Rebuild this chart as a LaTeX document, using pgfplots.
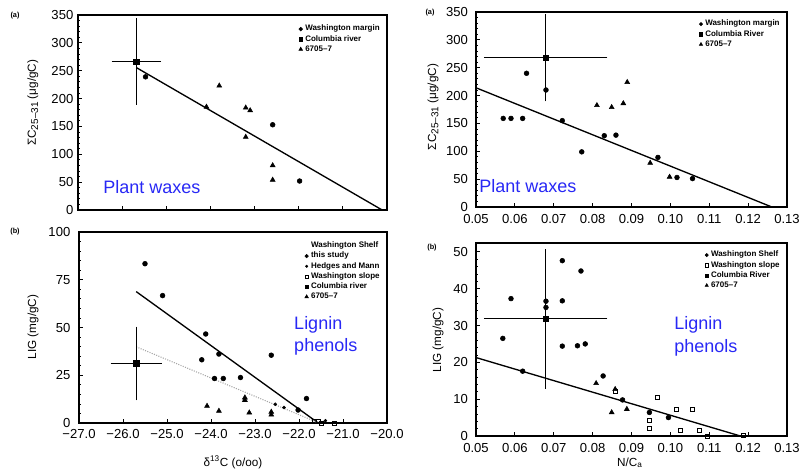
\documentclass[border=0pt]{standalone}
\usepackage{fontspec}
\setmainfont{Liberation Sans}
\usepackage{pgfplots}
\pgfplotsset{compat=1.18}
\definecolor{labelblue}{RGB}{40,40,245}

\tikzset{
  blue text/.style={anchor=base west, inner sep=0pt, text=labelblue, font=\fontsize{13.5}{15}\selectfont},
  panel letter/.style={font=\fontsize{5.5}{6.5}\selectfont\bfseries},
}
\newcommand{\wax}{ΣC\raisebox{-0.35ex}{\fontsize{7.5}{8}\selectfont 25–31} (μg/gC)}
\pgfplotsset{
  panel/.style={
    scale only axis, clip=false,
    axis line style={line width=1pt},
    tick style={line width=0.6pt, black},
    major tick length=3pt, minor tick length=1.5pt,
    xtick pos=bottom, ytick pos=left, tick align=inside,
    ticklabel style={font=\fontsize{9.8}{11}\selectfont},
    /pgf/number format/assume math mode=true,
    label style={font=\fontsize{8.8}{10}\selectfont},
    legend style={draw=none, fill=none, font=\fontsize{6}{7}\selectfont\bfseries,
      row sep=-2.2pt, inner sep=1pt, cells={anchor=west}},
    legend cell align=left,
  },
  wm/.style={only marks, mark=*, mark size=1.8pt, black},
  tri/.style={only marks, mark=triangle*, mark size=2.1pt, black},
  cr/.style={only marks, mark=square*, mark size=2pt, black,
    error bars/x dir=both, error bars/x explicit,
    error bars/y dir=both, error bars/y explicit,
    error bars/error bar style={line width=0.7pt, black},
    error bars/error mark options={black, mark size=2pt, line width=0.7pt}},
  slope/.style={only marks, mark=square, mark size=1.5pt, black, mark options={line width=0.6pt}},
  hm/.style={only marks, mark=*, mark size=1.1pt, black},
  fit/.style={black, line width=1pt, no marks},
}

\begin{document}
\begin{tikzpicture}
\path[use as bounding box] (0,0) rectangle (599.25pt,354pt);

% ---------------- (a) plant waxes vs delta 13C ----------------
\begin{axis}[panel, at={(58.5pt,196.5pt)}, anchor=south west,
  width=231.75pt, height=146.25pt,
  xmin=-27, xmax=-20, ymin=0, ymax=350,
  xtick={-26,-25,-24,-23,-22,-21}, xticklabels={},
  ytick={0,50,...,350}, minor y tick num=4,
  ylabel={\wax},
  ylabel style={at={(axis description cs:-0.146,0.55)}, anchor=center},
  legend style={at={(0.99,0.97)}, anchor=north east}]
\addlegendimage{only marks, mark=*, mark size=1.4pt}
\addlegendentry{Washington margin}
\addlegendimage{only marks, mark=square*, mark size=1.4pt}
\addlegendentry{Columbia river}
\addlegendimage{only marks, mark=triangle*, mark size=1.6pt}
\addlegendentry{6705–7}
\addplot[fit, forget plot] coordinates {(-25.68,255.7) (-20.11,0)};
\addplot[wm, forget plot] coordinates {(-25.47,239) (-22.59,153) (-21.98,52)};
\addplot[tri, forget plot] coordinates {(-24.09,185) (-23.80,223) (-23.20,183.5)
  (-23.10,178.7) (-23.20,131) (-22.59,80) (-22.59,54)};
\addplot[cr, forget plot] coordinates {(-25.68,266.5) +- (0.5,73)};
\node[blue text] at (rel axis cs:0.081,0.087) {Plant waxes};
\end{axis}

% ---------------- (a) plant waxes vs N/C ----------------
\begin{axis}[panel, at={(357pt,198.75pt)}, anchor=south west,
  width=233.25pt, height=146.25pt,
  xmin=0.05, xmax=0.13, ymin=0, ymax=350,
  xtick={0.05,0.06,...,0.13},
  xticklabels={0.05,0.06,0.07,0.08,0.09,0.10,0.11,0.12,0.13},
  xticklabel style={yshift=-2pt},
  yticklabel style={xshift=-2.5pt},
  ytick={0,50,...,350}, minor y tick num=4,
  ylabel={\wax},
  ylabel style={at={(axis description cs:-0.138,0.513)}, anchor=center},
  legend style={at={(0.99,0.98)}, anchor=north east}]
\addlegendimage{only marks, mark=*, mark size=1.2pt}
\addlegendentry{Washington margin}
\addlegendimage{only marks, mark=square*, mark size=1.2pt}
\addlegendentry{Columbia River}
\addlegendimage{only marks, mark=triangle*, mark size=1.4pt}
\addlegendentry{6705–7}
\addplot[fit, forget plot] coordinates {(0.05,214) (0.1261,0)};
\addplot[wm, forget plot] coordinates {(0.057,159) (0.059,159) (0.062,159) (0.063,240)
  (0.068,210) (0.0722,155) (0.0772,99) (0.083,128) (0.086,129) (0.0968,89)
  (0.1017,53) (0.1057,51)};
\addplot[tri, forget plot] coordinates {(0.0811,182.5) (0.0849,179) (0.0879,186)
  (0.0889,224) (0.0948,79) (0.0998,54)};
\addplot[cr, forget plot] coordinates {(0.0679,268) +- (0.0152,73.5)};
\node[blue text] at (rel axis cs:0.01,0.072) {Plant waxes};
\end{axis}

% ---------------- (b) lignin vs delta 13C ----------------
\begin{axis}[panel, at={(59.25pt,36.75pt)}, anchor=south west,
  width=231pt, height=143.25pt,
  xmin=-27, xmax=-20, ymin=0, ymax=100,
  xtick={-27,-26,...,-20},
  xticklabels={−27.0,−26.0,−25.0,−24.0,−23.0,−22.0,−21.0,−20.0},
  xticklabel style={yshift=-1.5pt},
  yticklabel style={xshift=-3pt},
  ytick={0,25,50,75,100}, minor y tick num=4,
  ylabel={LIG (mg/gC)},
  ylabel style={at={(axis description cs:-0.149,0.503)}, anchor=center},
  xlabel={δ\textsuperscript{13}C (o/oo)},
  xlabel style={at={(axis description cs:0.5,-0.204)}, anchor=center},
  legend style={at={(0.99,0.97)}, anchor=north east}]
\addlegendimage{empty legend}
\addlegendentry{Washington Shelf}
\addlegendimage{only marks, mark=*, mark size=1.3pt}
\addlegendentry{this study}
\addlegendimage{only marks, mark=*, mark size=0.9pt}
\addlegendentry{Hedges and Mann}
\addlegendimage{only marks, mark=square, mark size=1.2pt}
\addlegendentry{Washington slope}
\addlegendimage{only marks, mark=square*, mark size=1.3pt}
\addlegendentry{Columbia river}
\addlegendimage{only marks, mark=triangle*, mark size=1.5pt}
\addlegendentry{6705–7}
\addplot[fit, forget plot] coordinates {(-25.70,68.8) (-21.58,0.3)};
\addplot[gray!70, line width=0.8pt, densely dotted, no marks, forget plot]
  coordinates {(-25.70,39.9) (-21.60,0.5)};
\addplot[wm, forget plot] coordinates {(-25.50,83.4) (-25.10,66.7) (-24.12,46.6)
  (-24.21,33.1) (-23.82,36.1) (-23.92,23.3) (-23.72,23.3) (-23.33,23.8)
  (-22.63,35.5) (-21.83,12.8) (-22.02,6.8)};
\addplot[hm, forget plot] coordinates {(-22.54,9.8) (-22.34,8.1) (-21.40,1.2) (-21.52,0.3)};
\addplot[slope, forget plot] coordinates {(-21.64,1.0) (-21.55,1.0) (-21.48,0) (-21.20,0)};
\addplot[tri, forget plot] coordinates {(-24.09,8.9) (-23.82,6.3) (-23.23,13.3)
  (-23.23,12.0) (-23.13,5.4) (-22.63,5.8) (-22.63,4.3)};
\addplot[cr, forget plot] coordinates {(-25.70,31.2) +- (0.52,17.9)};
\node[blue text] at (rel axis cs:0.698,0.492) {Lignin};
\node[blue text] at (rel axis cs:0.698,0.372) {phenols};
\end{axis}

% ---------------- (b) lignin vs N/C ----------------
\begin{axis}[panel, at={(357pt,27pt)}, anchor=south west,
  width=233.25pt, height=144.75pt,
  xmin=0.05, xmax=0.13, ymin=0, ymax=52.4,
  xtick={0.05,0.06,...,0.13},
  xticklabels={0.05,0.06,0.07,0.08,0.09,0.10,0.11,0.12,0.13},
  xticklabel style={yshift=-2pt},
  yticklabel style={xshift=-2.5pt},
  ytick={0,10,...,50}, minor y tick num=4,
  ylabel={LIG (mg/gC)},
  ylabel style={at={(axis description cs:-0.122,0.497)}, anchor=center},
  xlabel={N/C\textsubscript{a}},
  xlabel style={at={(axis description cs:0.495,-0.14)}, anchor=center},
  legend style={at={(0.99,0.98)}, anchor=north east}]
\addlegendimage{only marks, mark=*, mark size=1.2pt}
\addlegendentry{Washington Shelf}
\addlegendimage{only marks, mark=square, mark size=1.2pt}
\addlegendentry{Washington slope}
\addlegendimage{only marks, mark=square*, mark size=1.2pt}
\addlegendentry{Columbia River}
\addlegendimage{only marks, mark=triangle*, mark size=1.4pt}
\addlegendentry{6705–7}
\addplot[fit, forget plot] coordinates {(0.05,21.3) (0.118,0)};
\addplot[wm, forget plot] coordinates {(0.0569,26.5) (0.059,37.3) (0.062,17.6)
  (0.068,36.6) (0.068,34.9) (0.0722,47.6) (0.0722,36.7) (0.0722,24.4)
  (0.077,44.8) (0.0761,24.5) (0.0781,25.0) (0.0827,16.3) (0.0877,9.8)
  (0.0946,6.4) (0.0995,5.0)};
\addplot[slope, forget plot] coordinates {(0.0858,12.0) (0.0966,10.4) (0.1016,7.1)
  (0.1056,7.1) (0.0946,4.2) (0.0946,2.0) (0.1025,1.45) (0.1074,1.45)
  (0.1096,0) (0.1188,0.1)};
\addplot[tri, forget plot] coordinates {(0.0809,14.3) (0.0858,12.7) (0.0849,6.4) (0.0888,7.3)};
\addplot[cr, forget plot] coordinates {(0.0679,31.8) +- (0.0152,18.2)};
\node[blue text] at (rel axis cs:0.637,0.554) {Lignin};
\node[blue text] at (rel axis cs:0.637,0.435) {phenols};
\end{axis}

% panel letters
\node[panel letter] at (11.25pt,342pt) {(a)};
\node[panel letter] at (322.5pt,344.25pt) {(a)};
\node[panel letter] at (11.25pt,180pt) {(b)};
\node[panel letter] at (324pt,168pt) {(b)};
\end{tikzpicture}
\end{document}
